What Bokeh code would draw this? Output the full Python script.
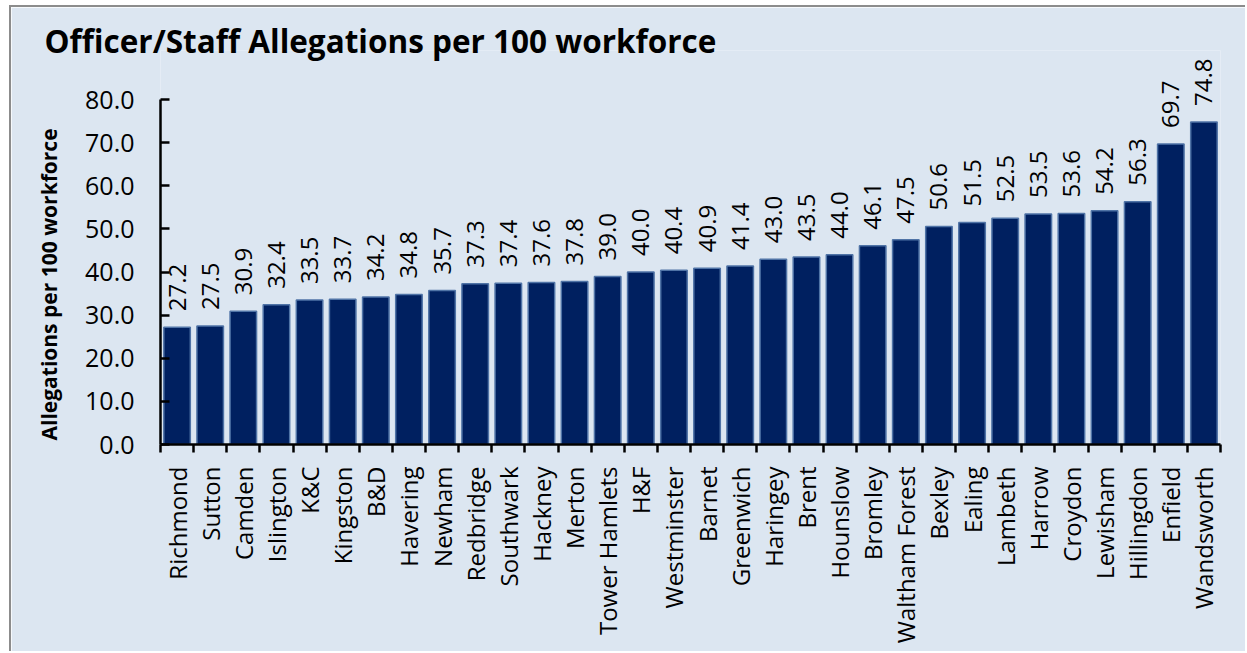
import math
from bokeh.plotting import figure
from bokeh.models import ColumnDataSource, FixedTicker, Range1d, LabelSet, PrintfTickFormatter, Title
from bokeh.core.properties import value
from bokeh.embed import file_html
from bokeh.resources import INLINE

boroughs = ["Richmond", "Sutton", "Camden", "Islington", "K&C", "Kingston", "B&D", "Havering",
            "Newham", "Redbridge", "Southwark", "Hackney", "Merton", "Tower Hamlets", "H&F",
            "Westminster", "Barnet", "Greenwich", "Haringey", "Brent", "Hounslow", "Bromley",
            "Waltham Forest", "Bexley", "Ealing", "Lambeth", "Harrow", "Croydon", "Lewisham",
            "Hillingdon", "Enfield", "Wandsworth"]
allegations = [27.2, 27.5, 30.9, 32.4, 33.5, 33.7, 34.2, 34.8, 35.7, 37.3, 37.4, 37.6, 37.8,
               39.0, 40.0, 40.4, 40.9, 41.4, 43.0, 43.5, 44.0, 46.1, 47.5, 50.6, 51.5, 52.5,
               53.5, 53.6, 54.2, 56.3, 69.7, 74.8]
y_ticks = [0, 10, 20, 30, 40, 50, 60, 70, 80]

FONT = "Open Sans"
BG = "#dce6f1"

n = len(boroughs)
idx = list(range(n))
source = ColumnDataSource(dict(
    x=idx,
    y=allegations,
    label=[f"{v:.1f}" for v in allegations],
))

# y range extends above 80 so the value labels are not clipped; the axis stops at 80
p = figure(width=1236, height=646, output_backend="svg", toolbar_location=None,
           x_range=Range1d(-0.5, n - 0.5), y_range=Range1d(0, 91.4),
           min_border_left=149, min_border_right=27, min_border_top=43, min_border_bottom=209,
           title="Officer/Staff Allegations per 100 workforce")

p.background_fill_color = BG
p.border_fill_color = BG
p.outline_line_color = None
p.styles = {"margin-left": "9px", "margin-top": "5px",
            "border-left": "2px solid #8c8c8c", "border-top": "2px solid #8c8c8c"}

p.title.text_font = FONT
p.title.text_font_size = "31.5px"
p.title.text_font_style = "bold"
p.title.text_color = "black"
p.title.align = "left"
p.title.offset = -116
p.title.standoff = -23

p.vbar(x="x", top="y", width=0.8, source=source, fill_color="#002060",
       line_color="#4f73a6", line_width=1.5)

labels = LabelSet(x="x", y="y", text="label", source=source, angle=math.pi / 2,
                  text_align="left", text_baseline="middle", y_offset=16,
                  text_font=value(FONT), text_font_size=value("24px"), text_color="black")
p.add_layout(labels)

p.xgrid.grid_line_color = None
p.ygrid.grid_line_color = None

# x axis: labels at bar centres, tick marks at category boundaries
xa = p.xaxis[0]
xa.ticker = FixedTicker(ticks=idx, minor_ticks=[i - 0.5 for i in range(n + 1)])
xa.major_label_overrides = {i: b for i, b in enumerate(boroughs)}
xa.major_label_orientation = math.pi / 2
xa.major_tick_in = 0
xa.major_tick_out = 0
xa.minor_tick_in = 0
xa.minor_tick_out = 8
xa.minor_tick_line_width = 2.5
xa.minor_tick_line_color = "black"
xa.axis_line_width = 2.5
xa.axis_line_color = "black"
xa.major_label_standoff = 14
xa.major_label_text_font = FONT
xa.major_label_text_font_size = "24px"
xa.major_label_text_color = "black"

ya = p.yaxis[0]
ya.ticker = FixedTicker(ticks=y_ticks)
ya.bounds = (y_ticks[0], y_ticks[-1])
ya.formatter = PrintfTickFormatter(format="%.1f")
ya.major_tick_in = 9
ya.major_tick_out = 0
ya.minor_tick_in = 0
ya.minor_tick_out = 0
ya.major_tick_line_width = 2.5
ya.major_tick_line_color = "black"
ya.axis_line_width = 2.5
ya.axis_line_color = "black"
ya.major_label_standoff = 26
ya.major_label_text_font = FONT
ya.major_label_text_font_size = "25px"
ya.major_label_text_color = "black"

# y-axis title, placed as a left-side title so it can start at the bottom of the axis
ytitle = Title(text="Allegations per 100 workforce", align="left", vertical_align="bottom",
               offset=4, standoff=40, text_font=FONT, text_font_size="21px",
               text_font_style="bold", text_color="black")
p.add_layout(ytitle, "left")

open("out.html", "w").write(file_html(p, INLINE))
